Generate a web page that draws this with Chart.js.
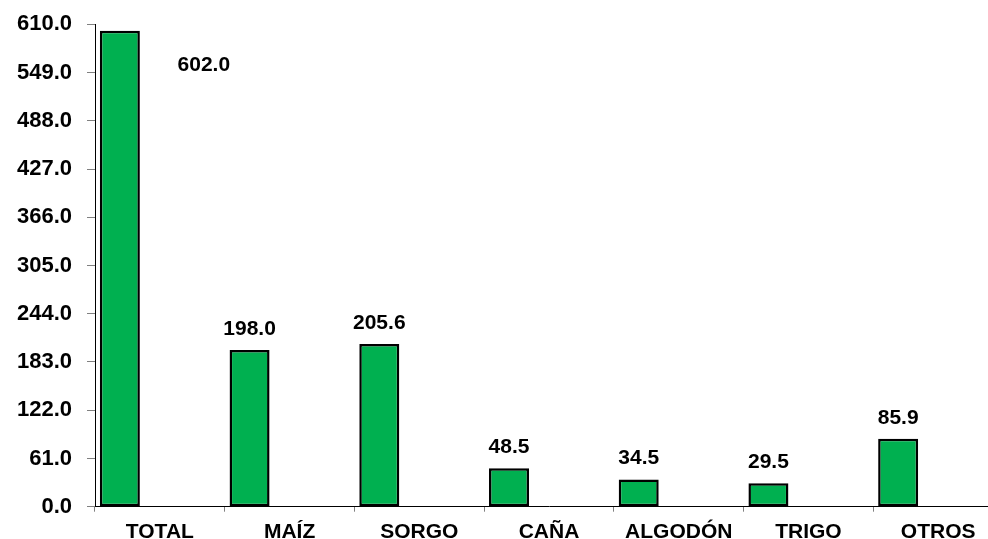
<!DOCTYPE html>
<html>
<head>
<meta charset="utf-8">
<script src="https://cdn.jsdelivr.net/npm/chart.js@4/dist/chart.umd.min.js"></script>
<style>
  html, body { margin: 0; padding: 0; background: #fff; overflow: hidden; }
  #wrap { position: relative; width: 1003px; height: 539px; }
</style>
</head>
<body>
<div id="wrap"><canvas id="c"></canvas></div>
<script>
const categories = ['TOTAL', 'MAÍZ', 'SORGO', 'CAÑA', 'ALGODÓN', 'TRIGO', 'OTROS'];
const values = [602.0, 198.0, 205.6, 48.5, 34.5, 29.5, 85.9];
const emptySeries = [null, null, null, null, null, null, null];
const yMin = 0;
const yMax = 610;
const yStep = 61;

const FONT = '"Liberation Sans", Arial, sans-serif';

const valueLabels = {
  id: 'valueLabels',
  afterDatasetsDraw(chart) {
    const ctx = chart.ctx;
    const meta = chart.getDatasetMeta(0);
    const area = chart.chartArea;
    ctx.save();
    ctx.fillStyle = '#000';
    ctx.font = 'bold 21px ' + FONT;
    ctx.textAlign = 'center';
    ctx.textBaseline = 'alphabetic';
    meta.data.forEach((bar, i) => {
      const txt = values[i].toFixed(1);
      let x = bar.x;
      let y = bar.y - 15;
      if (y - 16 < area.top) {
        // no room above: label sits beside the bar
        x = bar.x + 2 * bar.width + 4;
        y = bar.y + 40;
      }
      ctx.fillText(txt, x, y);
    });
    ctx.restore();
  }
};

new Chart(document.getElementById('c'), {
  type: 'bar',
  data: {
    labels: categories,
    datasets: [
      { data: values, backgroundColor: '#00B050', borderColor: '#000', borderWidth: 2.5, borderSkipped: false },
      { data: emptySeries, backgroundColor: '#00B050' },
      { data: emptySeries, backgroundColor: '#00B050' }
    ]
  },
  options: {
    responsive: true,
    maintainAspectRatio: false,
    animation: false,
    layout: { padding: { top: 24.3, right: 0, left: 0, bottom: 0 } },
    datasets: { bar: { barPercentage: 1.0, categoryPercentage: 0.925 } },
    plugins: { legend: { display: false }, tooltip: { enabled: false } },
    scales: {
      x: {
        afterFit(scale) { scale.height = 32.3; scale.paddingLeft = 0; scale.paddingRight = 0; },
        grid: { offset: true, drawOnChartArea: false, drawTicks: true, tickLength: 5, color: '#808080' },
        border: { color: '#000', width: 1 },
        ticks: { color: '#000', font: { family: FONT, size: 21, weight: 'bold' }, padding: 8, maxRotation: 0, autoSkip: false }
      },
      y: {
        min: yMin,
        max: yMax,
        afterFit(scale) { scale.width = 95; scale.paddingTop = 0; scale.paddingBottom = 0; },
        grid: { drawOnChartArea: false, drawTicks: true, tickLength: 8, color: '#808080' },
        border: { color: '#000', width: 1 },
        ticks: {
          stepSize: yStep,
          color: '#000',
          padding: 15,
          font: { family: FONT, size: 22, weight: 'bold' },
          callback: (v) => Number(v).toFixed(1)
        }
      }
    }
  },
  plugins: [valueLabels]
});
</script>
</body>
</html>
